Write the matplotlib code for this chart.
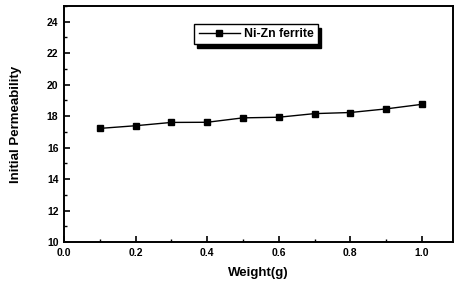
import matplotlib
matplotlib.use("Agg")
import matplotlib.pyplot as plt
from matplotlib.ticker import MultipleLocator

plt.rcParams['font.family'] = ['Liberation Sans', 'DejaVu Sans']
plt.rcParams['font.weight'] = 'bold'

weight = [0.1, 0.2, 0.3, 0.4, 0.5, 0.6, 0.7, 0.8, 0.9, 1.0]
permeability = [17.22, 17.39, 17.6, 17.61, 17.89, 17.93, 18.16, 18.23, 18.46, 18.75]
series_label = "Ni-Zn ferrite"
xticks = [0.0, 0.2, 0.4, 0.6, 0.8, 1.0]
yticks = [10, 12, 14, 16, 18, 20, 22, 24]

fig = plt.figure(figsize=(4.57, 2.85), dpi=100)
ax = fig.add_axes([64/457, 1-242/285, (453-64)/457, (242-6)/285])
ax.plot(weight, permeability, color='black', marker='s', markersize=4.5, linewidth=1, label=series_label)
ax.set_xlim(0.0, 1.087)
ax.set_ylim(10, 25)
ax.set_xticks(xticks)
ax.set_xticklabels([f"{v:.1f}" for v in xticks])
ax.set_yticks(yticks)
ax.xaxis.set_minor_locator(MultipleLocator(0.1))
ax.yaxis.set_minor_locator(MultipleLocator(1))
ax.tick_params(which='both', direction='in', top=False, right=False, labelsize=7.5)
ax.tick_params(which='major', length=4, width=1.2, pad=4)
ax.tick_params(which='minor', length=2, width=1)
for s in ax.spines.values():
    s.set_linewidth(1.4)
ax.set_xlabel("Weight(g)", fontsize=9.5, fontweight='bold', labelpad=7)
ax.set_ylabel("Initial Permeability", fontsize=9.5, fontweight='bold', labelpad=18)
leg = ax.legend(loc='center', bbox_to_anchor=((256-64)/389, 1-(34-6)/236), frameon=True,
                fancybox=False, shadow={'color': 'black', 'alpha': 1, 'ox': 2, 'oy': -3},
                edgecolor='black', fontsize=8.8, handlelength=3.4, borderpad=0.35,
                handletextpad=0.3)
leg.get_frame().set_linewidth(1)
fig.savefig("out.png", dpi=100)
